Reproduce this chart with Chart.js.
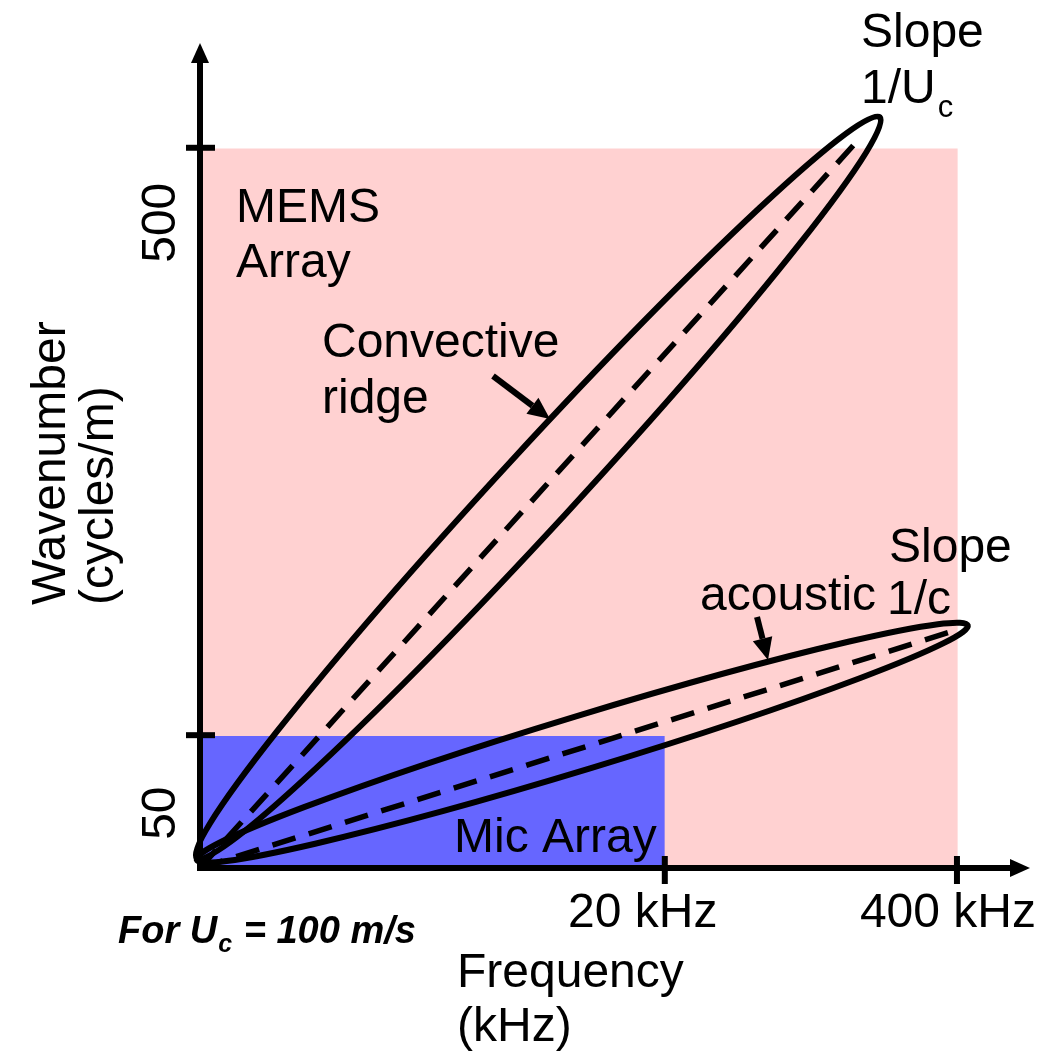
<!DOCTYPE html>
<html><head><meta charset="utf-8">
<script src="https://cdn.jsdelivr.net/npm/chart.js@4.4.0/dist/chart.umd.min.js"></script>
<style>html,body{margin:0;padding:0;background:#fff;overflow:hidden}
#wrap{position:relative;width:1039px;height:1055px}</style>
</head><body><div id="wrap"><canvas id="c"></canvas></div>
<script>
// Schematic axes (not to scale): both axes run 0..100 schematic units
const xTickValues = [56.0, 91.2];
const xTickLabels = ['20 kHz', '400 kHz'];
const yTickValues = [16.1, 87.3];
const yTickLabels = ['50', '500'];
// Sensor coverage regions [min, max]
const memsX = [0, 91.3];
const memsY = [0, 87.2];
const micX = [0, 56.0];
const micY = [0, 16.0];
// Ridge centre lines (slope 1/Uc and 1/c)
const convLineX = [0, 79.8];
const convLineY = [0, 88.8];
const acLineX = [0, 91.0];
const acLineY = [0, 28.8];
// Ridge envelopes: end points along each ridge
const convRidgeX = [-0.4, 81.9];
const convRidgeY = [1.2, 91.0];
const acRidgeX = [-0.4, 92.5];
const acRidgeY = [1.0, 29.4];

const FONT = '"Liberation Sans", Arial, Helvetica, sans-serif';
const pts = (xs, ys) => xs.map((x, i) => ({x, y: ys[i]}));

const overlay = {
  id: 'overlay',
  afterDatasetsDraw(chart) {
    const ctx = chart.ctx, xs = chart.scales.x, ys = chart.scales.y;
    const px = v => xs.getPixelForValue(v), py = v => ys.getPixelForValue(v);
    ctx.save();
    // ridge envelopes
    const ellipse = (X, Y, half) => {
      const x0 = px(X[0]), y0 = py(Y[0]), x1 = px(X[1]), y1 = py(Y[1]);
      const cx = (x0 + x1) / 2, cy = (y0 + y1) / 2;
      const a = Math.hypot(x1 - x0, y1 - y0) / 2;
      ctx.beginPath();
      ctx.ellipse(cx, cy, a, half, Math.atan2(y1 - y0, x1 - x0), 0, Math.PI * 2);
      ctx.lineWidth = 6; ctx.strokeStyle = '#000'; ctx.stroke();
    };
    ellipse(convRidgeX, convRidgeY, 38);
    ellipse(acRidgeX, acRidgeY, 27);

    // axes
    const ox = px(0), oy = py(0);
    ctx.fillStyle = '#000'; ctx.strokeStyle = '#000';
    ctx.lineCap = 'butt';
    ctx.lineWidth = 6;
    ctx.beginPath(); ctx.moveTo(ox, oy + 3); ctx.lineTo(ox, chart.chartArea.top + 18); ctx.stroke();
    ctx.beginPath(); ctx.moveTo(ox - 3, oy); ctx.lineTo(chart.chartArea.right - 18, oy); ctx.stroke();
    // arrowheads
    ctx.beginPath(); ctx.moveTo(ox, chart.chartArea.top); ctx.lineTo(ox - 9, chart.chartArea.top + 20); ctx.lineTo(ox + 9, chart.chartArea.top + 20); ctx.closePath(); ctx.fill();
    ctx.beginPath(); ctx.moveTo(chart.chartArea.right, oy); ctx.lineTo(chart.chartArea.right - 20, oy - 9); ctx.lineTo(chart.chartArea.right - 20, oy + 9); ctx.closePath(); ctx.fill();
    // ticks
    ctx.lineWidth = 6;
    xTickValues.forEach(v => { ctx.beginPath(); ctx.moveTo(px(v), oy - 12); ctx.lineTo(px(v), oy + 16); ctx.stroke(); });
    yTickValues.forEach(v => { ctx.beginPath(); ctx.moveTo(ox - 14, py(v)); ctx.lineTo(ox + 15, py(v)); ctx.stroke(); });
    // tick labels
    ctx.font = '48px ' + FONT; ctx.textBaseline = 'alphabetic';
    ctx.textAlign = 'center';
    xTickLabels.forEach((t, i) => ctx.fillText(t, px(xTickValues[i]) - (i === 0 ? 22 : 9), oy + 59));
    yTickLabels.forEach((t, i) => {
      ctx.save(); ctx.translate(ox - 25, py(yTickValues[i]) + (i === 0 ? 78 : 75)); ctx.rotate(-Math.PI / 2);
      ctx.fillText(t, 0, 0); ctx.restore();
    });
    // axis titles
    ctx.textAlign = 'left';
    ctx.save(); ctx.translate(65, 605); ctx.rotate(-Math.PI / 2); ctx.fillText('Wavenumber', 0, 0); ctx.restore();
    ctx.save(); ctx.translate(113, 605); ctx.rotate(-Math.PI / 2); ctx.fillText('(cycles/m)', 0, 0); ctx.restore();
    ctx.fillText('Frequency', 457, 987);
    ctx.fillText('(kHz)', 457, 1041);

    // annotations
    ctx.fillText('MEMS', 236, 222);
    ctx.fillText('Array', 236, 277);
    ctx.fillText('Convective', 322, 357);
    ctx.fillText('ridge', 322, 413);
    ctx.fillText('Mic Array', 454, 852);
    ctx.fillText('Slope', 861, 47);
    ctx.fillText('1/U', 861, 103);
    const wU = ctx.measureText('1/U').width;
    ctx.fillText('Slope', 889, 562);
    ctx.fillText('acoustic', 700, 610);
    ctx.fillText('1/c', 887, 614);
    ctx.font = '31px ' + FONT;
    ctx.fillText('c', 861 + wU + 2, 117);

    // note
    ctx.font = 'italic bold 38px ' + FONT;
    let x = 118; const by = 943;
    ctx.fillText('For U', x, by); x += ctx.measureText('For U').width;
    ctx.font = 'italic bold 25px ' + FONT;
    ctx.fillText('c', x + 1, by + 9); x += ctx.measureText('c').width + 2;
    ctx.font = 'italic bold 38px ' + FONT;
    ctx.fillText(' = 100 m/s', x, by);

    // pointer arrows
    const arrow = (x0, y0, x1, y1) => {
      const ang = Math.atan2(y1 - y0, x1 - x0), L = 22, W = 10;
      const bx = x1 - L * Math.cos(ang), by2 = y1 - L * Math.sin(ang);
      ctx.lineWidth = 6;
      ctx.beginPath(); ctx.moveTo(x0, y0); ctx.lineTo(bx, by2); ctx.stroke();
      ctx.beginPath(); ctx.moveTo(x1, y1);
      ctx.lineTo(bx + W * Math.sin(ang), by2 - W * Math.cos(ang));
      ctx.lineTo(bx - W * Math.sin(ang), by2 + W * Math.cos(ang));
      ctx.closePath(); ctx.fill();
    };
    arrow(493, 376, 550, 419);
    arrow(757, 617, 768, 660);
    ctx.restore();
  }
};

new Chart(document.getElementById('c'), {
  type: 'line',
  data: {
    datasets: [
      { data: pts(convLineX, convLineY), borderColor: '#000', borderWidth: 5.5, borderDash: [24, 14], pointRadius: 0, fill: false, order: 1, clip: false },
      { data: pts(acLineX, acLineY), borderColor: '#000', borderWidth: 5.5, borderDash: [24, 14], pointRadius: 0, fill: false, order: 1, clip: false },
      { data: pts(micX, [micY[1], micY[1]]), borderWidth: 0, borderColor: 'rgba(0,0,0,0)', backgroundColor: '#6666ff', pointRadius: 0, fill: 'origin', order: 3, clip: false },
      { data: pts(memsX, [memsY[1], memsY[1]]), borderWidth: 0, borderColor: 'rgba(0,0,0,0)', backgroundColor: '#ffd1d1', pointRadius: 0, fill: 'origin', order: 4, clip: false }
    ]
  },
  options: {
    responsive: true, maintainAspectRatio: false, animation: false, devicePixelRatio: 1,
    layout: { padding: { left: 200, right: 9, top: 43, bottom: 187 } },
    scales: {
      x: { type: 'linear', min: 0, max: 100, display: false },
      y: { type: 'linear', min: 0, max: 100, display: false }
    },
    plugins: { legend: { display: false }, tooltip: { enabled: false } },
    events: []
  },
  plugins: [overlay]
});
</script></body></html>
